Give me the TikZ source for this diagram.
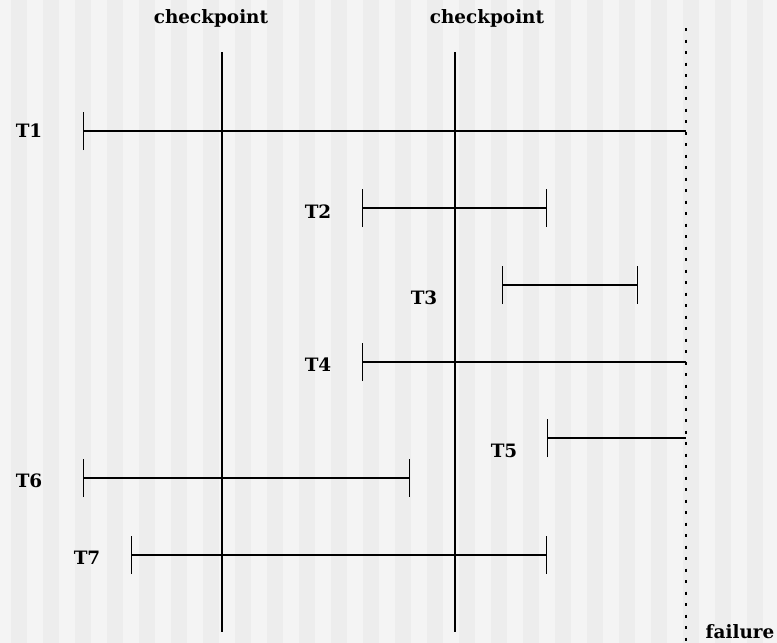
\documentclass[tikz,border=0pt]{standalone}
\usepackage{fontspec}
\setmainfont{DejaVu Serif}
\usetikzlibrary{arrows.meta}
\definecolor{stripelight}{HTML}{F4F4F4}
\definecolor{stripedark}{HTML}{EDEDED}

\begin{document}
\begin{tikzpicture}[x=1pt,y=-1pt,
    lbl/.style={font=\bfseries\fontsize{18.4}{22}\selectfont,inner sep=0pt},
    tx/.style={line width=1.2pt,{Bar[width=38pt]}-{Bar[width=38pt]}},
    txopen/.style={line width=1.2pt,{Bar[width=38pt]}-}]
  % background
  \useasboundingbox (0,0) rectangle (777,643);
  \begin{scope}
    \clip (0,0) rectangle (777,643);
    \fill[stripelight] (0,0) rectangle (777,643);
    \foreach \s in {0,...,24}
      \fill[stripedark] (11+32*\s,0) rectangle (27+32*\s,643);
  \end{scope}

  % checkpoints and failure
  \coordinate (cp1top) at (222,52);  \coordinate (cp1bot) at (222,632);
  \coordinate (cp2top) at (455,52);  \coordinate (cp2bot) at (455,632);
  \coordinate (failtop) at (686,28); \coordinate (failbot) at (686,643);
  \node[lbl] (cp1) at (211,18) {checkpoint};
  \node[lbl] (cp2) at (487,18) {checkpoint};
  \node[lbl] (fail) at (740,632) {failure};
  \draw[line width=1.2pt] (cp1top) -- (cp1bot);
  \draw[line width=1.2pt] (cp2top) -- (cp2bot);
  \draw[line width=1.5pt,dash pattern=on 3pt off 8.5pt] (failtop) -- (failbot);

  % transactions
  \node[lbl] (t1) at (29,131) {T1};
  \node[lbl] (t2) at (318,212) {T2};
  \node[lbl] (t3) at (424,298) {T3};
  \node[lbl] (t4) at (318,365) {T4};
  \node[lbl] (t5) at (504,451) {T5};
  \node[lbl] (t6) at (29,481) {T6};
  \node[lbl] (t7) at (87,558) {T7};

  \coordinate (t1s) at (83,131);  \coordinate (t1e) at (686,131);
  \coordinate (t2s) at (362,208); \coordinate (t2e) at (547,208);
  \coordinate (t3s) at (502,285); \coordinate (t3e) at (638,285);
  \coordinate (t4s) at (362,362); \coordinate (t4e) at (686,362);
  \coordinate (t5s) at (547,438); \coordinate (t5e) at (686,438);
  \coordinate (t6s) at (83,478);  \coordinate (t6e) at (410,478);
  \coordinate (t7s) at (131,555); \coordinate (t7e) at (547,555);

  \draw[txopen] (t1s) -- (t1e);
  \draw[tx] (t2s) -- (t2e);
  \draw[tx] (t3s) -- (t3e);
  \draw[txopen] (t4s) -- (t4e);
  \draw[txopen] (t5s) -- (t5e);
  \draw[tx] (t6s) -- (t6e);
  \draw[tx] (t7s) -- (t7e);
\end{tikzpicture}
\end{document}
